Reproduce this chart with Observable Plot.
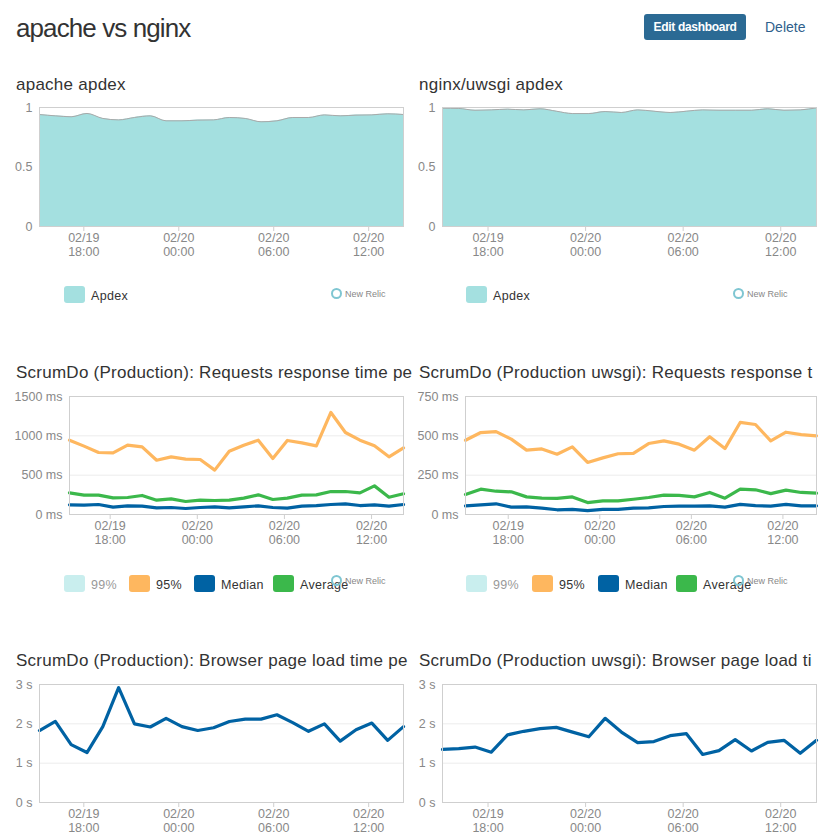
<!DOCTYPE html>
<html>
<head>
<meta charset="utf-8">
<script src="https://cdn.jsdelivr.net/npm/d3@7"></script>
<script src="https://cdn.jsdelivr.net/npm/@observablehq/plot@0.6"></script>
<style>
  html, body { margin: 0; padding: 0; background: #fff; }
  body { width: 821px; height: 838px; overflow: hidden; font-family: "Liberation Sans", Arial, sans-serif; }
  #page { position: relative; width: 821px; height: 838px; }
  .abs { position: absolute; }
  .main-title { left: 16px; top: 12px; font-size: 26px; color: #333; letter-spacing: -0.9px; line-height: 32px; }
  .btn { left: 644px; top: 14px; width: 102px; height: 26px; background: #2b6a94; border-radius: 3px; color: #fff; font-size: 12px; font-weight: bold; line-height: 26px; text-align: center; letter-spacing: -0.3px; }
  .del { left: 765px; top: 18px; font-size: 14px; color: #2f5f8c; line-height: 18px; }
  .ptitle { font-size: 17px; color: #333; line-height: 22px; white-space: nowrap; letter-spacing: 0.25px; }
  .legend { height: 18px; font-size: 12.5px; color: #333; }
  .item { position: absolute; top: 0; height: 18px; white-space: nowrap; }
  .sw { position: absolute; left: 0; top: 0; width: 21px; height: 17px; border-radius: 3px; }
  .lbl { position: absolute; left: 27px; top: 1px; line-height: 18px; letter-spacing: 0.3px; }
  .nr { font-size: 9px; color: #888; line-height: 12px; white-space: nowrap; }
  .ring { display: inline-block; width: 7px; height: 7px; border: 2px solid #7fc6d2; border-radius: 50%; vertical-align: -2px; margin-right: 3px; }
</style>
</head>
<body>
<div id="page"></div>
<script>
// ---------------- data ----------------
const startTime = "2013-02-19T15:12:00Z";       // first hourly sample
const xTickTimes = ["2013-02-19T18:00:00Z", "2013-02-20T00:00:00Z", "2013-02-20T06:00:00Z", "2013-02-20T12:00:00Z"];
const xTickLabels = ["02/19\n18:00", "02/20\n00:00", "02/20\n06:00", "02/20\n12:00"];

const apacheApdex = [0.941,0.930,0.922,0.950,0.908,0.896,0.916,0.930,0.888,0.888,0.894,0.896,0.916,0.908,0.880,0.888,0.916,0.916,0.938,0.930,0.936,0.938,0.947,0.941];
const nginxApdex  = [0.994,0.992,0.977,0.980,0.986,0.980,0.989,0.969,0.949,0.949,0.966,0.958,0.980,0.969,0.958,0.969,0.980,0.977,0.977,0.977,0.989,0.977,0.980,0.997];

const apache95     = [945,869,788,784,881,860,690,733,703,699,564,805,881,945,712,941,911,873,1297,1042,945,873,733,847];
const apacheAvg    = [275,246,246,212,216,242,182,199,165,182,178,182,208,250,191,208,246,250,292,292,275,364,220,263];
const apacheMedian = [123,119,127,93,110,106,85,89,76,89,97,85,97,110,89,80,106,114,127,136,114,123,106,127];

const nginx95     = [472,521,527,479,409,417,383,430,331,360,386,388,451,468,447,409,494,419,585,572,468,523,508,500];
const nginxAvg    = [127,161,148,144,112,104,102,112,76,87,87,97,108,123,121,112,140,104,161,157,133,155,140,136];
const nginxMedian = [55,61,68,47,49,40,30,32,25,32,32,40,42,51,53,53,55,47,64,57,53,64,55,55];

const apacheBrowser = [1.83,2.06,1.47,1.27,1.93,2.92,2.00,1.92,2.14,1.93,1.83,1.90,2.06,2.12,2.12,2.23,2.03,1.81,2.00,1.56,1.85,2.02,1.58,1.93];
const nginxBrowser  = [1.35,1.37,1.41,1.28,1.72,1.81,1.88,1.91,1.79,1.67,2.14,1.79,1.52,1.55,1.70,1.75,1.22,1.32,1.60,1.31,1.53,1.58,1.25,1.58];

const apdexTicks = [0, 0.5, 1];
const apacheRespTicks = [0, 500, 1000, 1500];
const nginxRespTicks = [0, 250, 500, 750];
const browserTicks = [0, 1, 2, 3];

const responseSeries = ["99%", "95%", "Median", "Average"];
const responseColors = ["#c9eeee", "#feb75f", "#0062a3", "#3bb84b"];
const apdexColor = "#a4e0e0";

// panel titles as visible in the reference (truncated by the dashboard tiles)
const panelTitles = [
  "apache apdex",
  "nginx/uwsgi apdex",
  "ScrumDo (Production): Requests response time pe",
  "ScrumDo (Production uwsgi): Requests response t",
  "ScrumDo (Production): Browser page load time pe",
  "ScrumDo (Production uwsgi): Browser page load ti"
];

// ---------------- helpers ----------------
const t0 = new Date(startTime);
const times = apacheApdex.map((_, i) => d3.utcHour.offset(t0, i));
const tickDates = xTickTimes.map(s => new Date(s));
const tickLabelMap = new Map(tickDates.map((d, i) => [+d, xTickLabels[i]]));
const page = document.getElementById("page");

function el(cls, style, html) {
  const d = document.createElement("div");
  d.className = "abs " + cls;
  Object.assign(d.style, style);
  if (html !== undefined) d.textContent = html;
  page.appendChild(d);
  return d;
}

function chart({left, top, plotHeight, marginLeft, marginRight, yDomain, yTicks, yFormat, marks}) {
  const svg = Plot.plot({
    width: 410,
    height: 7 + plotHeight + 36,
    marginLeft, marginRight,
    marginTop: 7,
    marginBottom: 36,
    style: {fontFamily: "'Liberation Sans', Arial, sans-serif", fontSize: "12.5px", background: "transparent", overflow: "visible"},
    x: {type: "utc", domain: [times[0], times[times.length - 1]]},
    y: {domain: yDomain},
    marks: [
      Plot.gridY(yTicks, {stroke: "#ececec", strokeOpacity: 1}),
      ...marks,
      Plot.frame({stroke: "#cfcfcf"}),
      Plot.axisX(tickDates, {tickFormat: d => tickLabelMap.get(+d), tickSize: 5, tickPadding: 0, stroke: "#cfcfcf", fill: "#888", lineHeight: 1.15, label: null}),
      Plot.axisY(yTicks, {tickFormat: yFormat, tickSize: 0, tickPadding: 7, fill: "#888", label: null})
    ]
  });
  svg.style.position = "absolute";
  svg.style.left = left + "px";
  svg.style.top = top + "px";
  page.appendChild(svg);
}

function rows(values) { return values.map((v, i) => ({t: times[i], v})); }

function legend(left, top, items) {
  const L = el("legend", {left: left + "px", top: top + "px", width: "300px"});
  items.forEach(([name, color, x, muted]) => {
    const it = document.createElement("div");
    it.className = "item";
    it.style.left = x + "px";
    it.innerHTML = `<div class="sw" style="background:${color}"></div><div class="lbl" style="color:${muted ? '#999' : '#333'}">${name}</div>`;
    L.appendChild(it);
  });
}

function newRelic(left, top) {
  const d = el("nr", {left: left + "px", top: top + "px"});
  d.innerHTML = '<span class="ring"></span>New Relic';
}

// ---------------- header ----------------
el("main-title", {}, "apache vs nginx");
el("btn", {}, "Edit dashboard");
el("del", {}, "Delete");

// ---------------- row 1 : apdex ----------------
el("ptitle", {left: "16px", top: "74px"}, panelTitles[0]);
el("ptitle", {left: "419px", top: "74px"}, panelTitles[1]);

function apdexMarks(values) {
  const d = rows(values);
  return [
    Plot.areaY(d, {x: "t", y: "v", fill: apdexColor, curve: "monotone-x"}),
    Plot.lineY(d, {x: "t", y: "v", stroke: "#a9a9a9", strokeWidth: 1, curve: "monotone-x"})
  ];
}
chart({left: 0, top: 100, plotHeight: 119, marginLeft: 39, marginRight: 7, yDomain: [0, 1], yTicks: apdexTicks, yFormat: d => String(d), marks: apdexMarks(apacheApdex)});
chart({left: 410, top: 100, plotHeight: 119, marginLeft: 32, marginRight: 4, yDomain: [0, 1], yTicks: apdexTicks, yFormat: d => String(d), marks: apdexMarks(nginxApdex)});

legend(64, 286, [["Apdex", apdexColor, 0, false]]);
legend(466, 286, [["Apdex", apdexColor, 0, false]]);
newRelic(331, 288);
newRelic(733, 288);

// ---------------- row 2 : response time ----------------
el("ptitle", {left: "16px", top: "362px"}, panelTitles[2]);
el("ptitle", {left: "419px", top: "362px"}, panelTitles[3]);

function respMarks(p95, avg, med) {
  const sw = 3.2;
  return [
    Plot.lineY(rows(med), {x: "t", y: "v", stroke: responseColors[2], strokeWidth: sw}),
    Plot.lineY(rows(avg), {x: "t", y: "v", stroke: responseColors[3], strokeWidth: sw}),
    Plot.lineY(rows(p95), {x: "t", y: "v", stroke: responseColors[1], strokeWidth: sw})
  ];
}
chart({left: 0, top: 389, plotHeight: 118, marginLeft: 69, marginRight: 7, yDomain: [0, 1500], yTicks: apacheRespTicks, yFormat: d => `${d} ms`, marks: respMarks(apache95, apacheAvg, apacheMedian)});
chart({left: 410, top: 389, plotHeight: 118, marginLeft: 55, marginRight: 4, yDomain: [0, 750], yTicks: nginxRespTicks, yFormat: d => `${d} ms`, marks: respMarks(nginx95, nginxAvg, nginxMedian)});

const legendX1 = [0, 65, 130, 209];
const legendX2 = [0, 66, 132, 210];
legend(64, 575, responseSeries.map((s, i) => [s, responseColors[i], legendX1[i], i === 0]));
legend(466, 575, responseSeries.map((s, i) => [s, responseColors[i], legendX2[i], i === 0]));
newRelic(331, 575);
newRelic(733, 575);

// ---------------- row 3 : browser page load ----------------
el("ptitle", {left: "16px", top: "650px"}, panelTitles[4]);
el("ptitle", {left: "419px", top: "650px"}, panelTitles[5]);

function browserMarks(values) {
  return [Plot.lineY(rows(values), {x: "t", y: "v", stroke: "#0062a3", strokeWidth: 3.2})];
}
chart({left: 0, top: 677, plotHeight: 118, marginLeft: 39, marginRight: 7, yDomain: [0, 3], yTicks: browserTicks, yFormat: d => `${d} s`, marks: browserMarks(apacheBrowser)});
chart({left: 410, top: 677, plotHeight: 118, marginLeft: 32, marginRight: 4, yDomain: [0, 3], yTicks: browserTicks, yFormat: d => `${d} s`, marks: browserMarks(nginxBrowser)});
</script>
</body>
</html>
